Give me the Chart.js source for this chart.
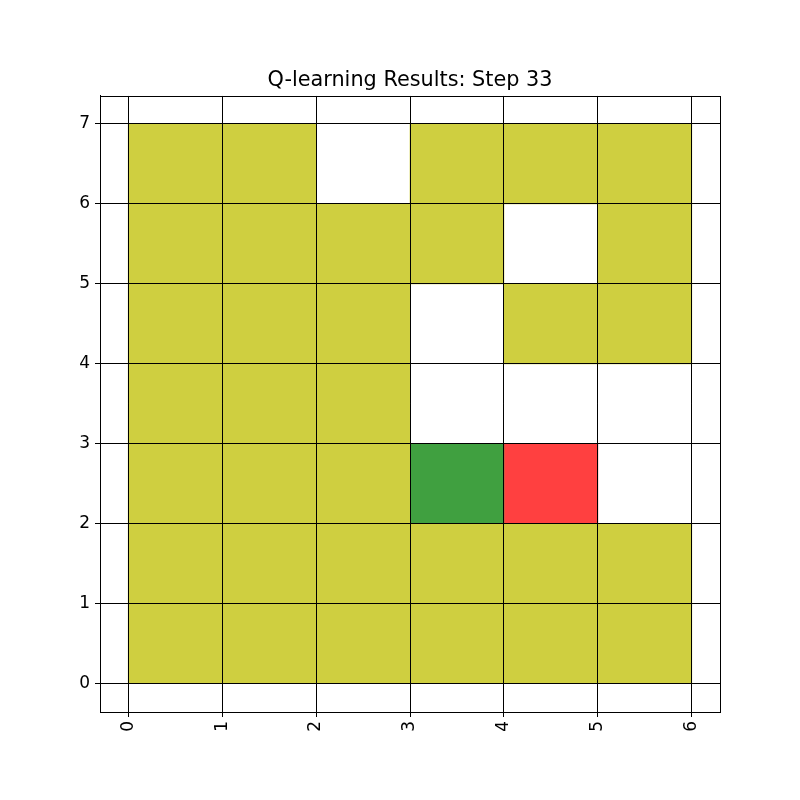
<!DOCTYPE html>
<html><head><meta charset="utf-8">
<script src="https://cdn.jsdelivr.net/npm/chart.js@4"></script>
<style>html,body{margin:0;padding:0;background:#fff}#wrap{width:800px;height:800px}</style>
</head><body><div id="wrap"><canvas id="c" width="800" height="800"></canvas></div>
<script>
const titleText = 'Q-learning Results: Step 33';
const xTicks = [0, 1, 2, 3, 4, 5, 6];
const yTicks = [0, 1, 2, 3, 4, 5, 6, 7];
// cell states per row (row 0 = bottom), per column 0..5: 'Y' visited, 'G' goal, 'R' agent, '' empty
const row0 = ['Y','Y','Y','Y','Y','Y'];
const row1 = ['Y','Y','Y','Y','Y','Y'];
const row2 = ['Y','Y','Y','G','R',''];
const row3 = ['Y','Y','Y','','',''];
const row4 = ['Y','Y','Y','','Y','Y'];
const row5 = ['Y','Y','Y','Y','','Y'];
const row6 = ['Y','Y','','Y','Y','Y'];
const rows = [row0,row1,row2,row3,row4,row5,row6];

function cellsOf(kind){
  const out = [];
  rows.forEach((r, ri) => r.forEach((v, ci) => { if (v === kind) out.push({x: ci + 0.5, y: [ri, ri + 1]}); }));
  return out;
}
const mk = (kind, color) => ({data: cellsOf(kind), backgroundColor: color, borderWidth: 0,
  barPercentage: 1, categoryPercentage: 1, grouped: false});
const tickFont = { family: 'DejaVu Sans', size: 17 };

new Chart(document.getElementById('c'), {
  type: 'bar',
  data: { datasets: [mk('Y', '#cfcf40'), mk('G', '#40a040'), mk('R', '#ff4040')] },
  options: {
    responsive: false, animation: false,
    layout: { padding: { left: 0, right: 80, top: 0, bottom: 0 } },
    plugins: {
      legend: { display: false }, tooltip: { enabled: false },
      title: { display: true, text: titleText, color: '#000', fullSize: false,
        font: { family: 'DejaVu Sans', size: 20.8, weight: 'normal', lineHeight: 1.2 },
        padding: { top: 68.5, bottom: 2.5 } }
    },
    scales: {
      x: { type: 'linear', min: -0.3, max: 6.3, offset: false,
        afterBuildTicks: s => { s.ticks = xTicks.map(v => ({value: v})); },
        afterFit: s => { s.height = 88; },
        grid: { color: '#000', lineWidth: 1, tickLength: 5, offset: false, z: 1 },
        border: { color: '#000', width: 1, z: 1 },
        ticks: { color: '#000', font: tickFont, minRotation: 90, maxRotation: 90, padding: 4, autoSkip: false, z: 1 }
      },
      y: { type: 'linear', min: -0.35, max: 7.35,
        afterBuildTicks: s => { s.ticks = yTicks.map(v => ({value: v})); },
        afterFit: s => { s.width = 100; },
        grid: { color: '#000', lineWidth: 1, tickLength: 5, z: 1 },
        border: { color: '#000', width: 1, z: 1 },
        ticks: { color: '#000', font: tickFont, padding: 5, autoSkip: false, z: 1 }
      }
    }
  },
  plugins: [{ id: 'frame', afterDraw(chart) {
    const a = chart.chartArea, ctx = chart.ctx;
    ctx.save(); ctx.strokeStyle = '#000'; ctx.lineWidth = 1;
    ctx.strokeRect(Math.round(a.left) + 0.5, Math.round(a.top) + 0.5, Math.round(a.right - a.left), Math.round(a.bottom - a.top));
    ctx.restore();
  }}]
});
</script></body></html>
